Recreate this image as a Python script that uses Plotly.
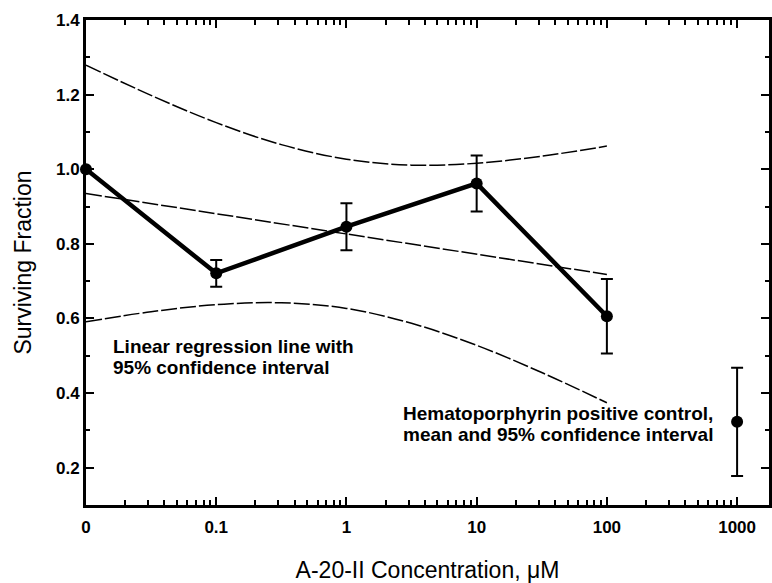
import plotly.graph_objects as go

# A-20-II dose series (the "0" dose is plotted at the 0.01 position of the log axis)
conc = [0.01, 0.1, 1, 10, 100]
surv = [1.0, 0.721, 0.846, 0.962, 0.606]
surv_err = [0.0, 0.036, 0.063, 0.075, 0.100]

# Hematoporphyrin positive control
ctrl_conc = [1000]
ctrl_surv = [0.323]
ctrl_err = [0.145]

# Linear regression line with its 95% confidence band
reg_conc = [0.01, 0.0316, 0.1, 0.316, 1, 3.16, 10, 31.6, 100]
reg_fit = [0.935, 0.908, 0.881, 0.854, 0.827, 0.799, 0.772, 0.745, 0.718]
reg_upper = [1.279, 1.198, 1.125, 1.066, 1.027, 1.011, 1.016, 1.035, 1.062]
reg_lower = [0.591, 0.618, 0.637, 0.642, 0.627, 0.587, 0.528, 0.455, 0.374]

x_tickvals = [0.01, 0.1, 1, 10, 100, 1000]
x_ticktext = ["0", "0.1", "1", "10", "100", "1000"]
y_tickvals = [0.2, 0.4, 0.6, 0.8, 1.0, 1.2, 1.4]
y_ticktext = ["0.2", "0.4", "0.6", "0.8", "1.0", "1.2", "1.4"]

# minor log ticks 2..9 within every decade
x_minor = [m * d for d in [0.01, 0.1, 1, 10, 100, 1000] for m in range(2, 10)]

W, H = 772, 583
ML, MR, MT, MB = 86, 0, 20, 78
x_range = [-2, 3.245]
y_range = [0.1, 1.4]

fig = go.Figure()

band_line = dict(color="black", width=1.5, dash="16px,3px")
fig.add_trace(go.Scatter(x=reg_conc, y=reg_upper, mode="lines", line=band_line,
                         line_shape="spline", hoverinfo="skip"))
fig.add_trace(go.Scatter(x=reg_conc, y=reg_lower, mode="lines", line=band_line,
                         line_shape="spline", hoverinfo="skip"))
fig.add_trace(go.Scatter(x=reg_conc, y=reg_fit, mode="lines", line=band_line,
                         hoverinfo="skip"))

fig.add_trace(go.Scatter(
    x=conc, y=surv, mode="lines+markers",
    line=dict(color="black", width=4.5),
    marker=dict(color="black", size=12),
    error_y=dict(type="data", array=surv_err, color="black", thickness=2, width=6),
    cliponaxis=False,
))

fig.add_trace(go.Scatter(
    x=ctrl_conc, y=ctrl_surv, mode="markers",
    marker=dict(color="black", size=12),
    error_y=dict(type="data", array=ctrl_err, color="black", thickness=2, width=6),
    cliponaxis=False,
))

FAMILY = "Liberation Sans, Arial, sans-serif"
tick_font = dict(family=FAMILY, size=17, color="black")
title_font = dict(family=FAMILY, size=23, color="black")


def bold(labels):
    return ["<b>%s</b>" % s for s in labels]


fig.update_layout(
    width=W, height=H,
    margin=dict(l=ML, r=MR, t=MT, b=MB),
    paper_bgcolor="white", plot_bgcolor="white",
    showlegend=False,
    xaxis=dict(
        type="log", range=x_range,
        tickmode="array", tickvals=x_tickvals, ticktext=bold(x_ticktext),
        ticks="inside", ticklen=8, tickwidth=2, tickcolor="black",
        minor=dict(tickmode="array", tickvals=x_minor, ticks="inside",
                   ticklen=5, tickwidth=2, tickcolor="black"),
        showline=True, linewidth=3, linecolor="black", mirror="ticks",
        showgrid=False, zeroline=False,
        tickfont=tick_font, ticklabelstandoff=5,
        title=dict(text="A-20-II Concentration, μM", font=title_font, standoff=26),
    ),
    yaxis=dict(
        range=y_range,
        tickmode="array", tickvals=y_tickvals, ticktext=bold(y_ticktext),
        ticks="inside", ticklen=8, tickwidth=2, tickcolor="black",
        minor=dict(dtick=0.1, tick0=0.1, ticks="inside", ticklen=4,
                   tickwidth=2, tickcolor="black"),
        showline=True, linewidth=3, linecolor="black", mirror="ticks",
        showgrid=False, zeroline=False,
        tickfont=tick_font,
        title=dict(text="Surviving Fraction", font=title_font, standoff=18),
    ),
)

note_font = dict(family=FAMILY, size=19, color="black")
PW, PH = W - ML - MR, H - MT - MB


def note(lines, left_px, first_center_px, spacing_px=21):
    for i, line in enumerate(lines):
        fig.add_annotation(
            text="<b>%s</b>" % line, xref="paper", yref="paper",
            x=(left_px - ML) / PW, y=(H - MB - (first_center_px + i * spacing_px)) / PH,
            xanchor="left", yanchor="middle", align="left", showarrow=False,
            font=note_font,
        )


note(["Linear regression line with", "95% confidence interval"], 111, 346)
note(["Hematoporphyrin positive control,", "mean and 95% confidence interval"], 402, 413)

fig.write_html("out.html")
